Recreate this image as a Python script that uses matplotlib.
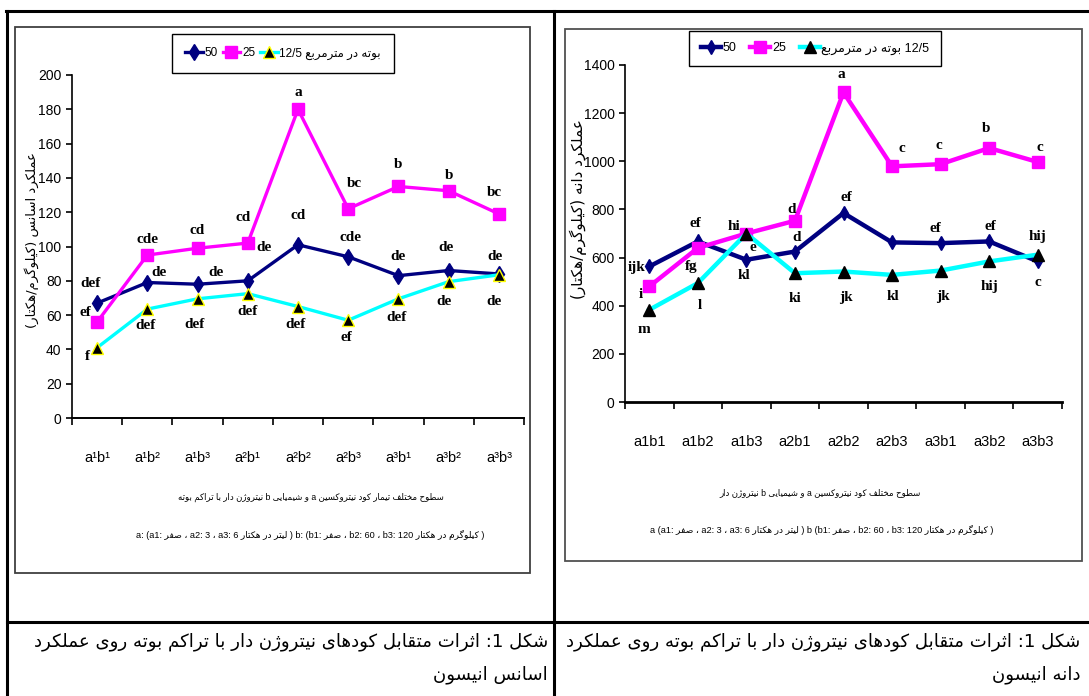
import numpy as np
import matplotlib
matplotlib.use('Agg')
import matplotlib.pyplot as plt
from matplotlib.patches import Rectangle

# ---- data ----
treatments = ['a1b1', 'a1b2', 'a1b3', 'a2b1', 'a2b2', 'a2b3', 'a3b1', 'a3b2', 'a3b3']
left_ticks = ['a¹b¹', 'a¹b²', 'a¹b³', 'a²b¹', 'a²b²', 'a²b³', 'a³b¹', 'a³b²', 'a³b³']
density_labels = ['50', '25', '12/5']

# essential oil yield (kg/ha)
oil_50 = [67, 79, 78, 80, 101, 94, 83, 86, 84]
oil_25 = [56, 95, 99, 102, 180, 122, 135, 132.5, 119]
oil_125 = [41, 63.5, 69.5, 72.5, 65, 57, 69.5, 79.5, 83.5]
oil_50_letters = ['def', 'de', 'de', 'de', 'cd', 'cde', 'de', 'de', 'de']
oil_25_letters = ['ef', 'cde', 'cd', 'cd', 'a', 'bc', 'b', 'b', 'bc']
oil_125_letters = ['f', 'def', 'def', 'def', 'def', 'ef', 'def', 'de', 'de']

# grain yield (kg/ha)
grain_50 = [563, 667, 591, 625, 785, 663, 660, 667, 584]
grain_25 = [480, 640, 700, 753, 1286, 979, 988, 1055, 997]
grain_125 = [383, 494, 700, 535, 542, 528, 546, 584, 612]
grain_50_letters = ['ijk', 'ef', 'kl', 'd', 'ef', '', 'ef', 'ef', 'hij']
grain_25_letters = ['i', 'fg', 'hi', 'd', 'a', 'c', 'c', 'b', 'c']
grain_125_letters = ['m', 'l', 'e', 'ki', 'jk', 'kl', 'jk', 'hij', 'c']

# label offsets in pixels (dx, dy up)
off_oil_50 = [(-7, 20), (12, 10), (18, 12), (16, 33), (0, 29), (2, 19), (0, 19), (-3, 23), (-4, 17)]
off_oil_25 = [(-12, 9), (0, 16), (0, 18), (-5, 26), (0, 17), (6, 25), (0, 22), (0, 15), (-4, 21)]
off_oil_125 = [(-10, -9), (-2, -16), (-3, -26), (0, -18), (-3, -18), (-2, -17), (-2, -19), (-5, -20), (-5, -27)]
off_grain_50 = [(-13, -1), (-2, 18), (-2, -16), (2, 14), (3, 16), (0, 0), (-5, 15), (1, 15), (0, 25)]
off_grain_25 = [(-9, -8), (-7, -19), (-12, 7), (-3, 11), (-2, 18), (10, 18), (-2, 19), (-3, 20), (2, 15)]
off_grain_125 = [(-5, -20), (2, -22), (6, -14), (0, -25), (2, -26), (1, -22), (2, -26), (0, -25), (0, -28)]

# ---- tiny persian shaper (matplotlib does no arabic shaping / bidi) ----
FOUR = {'ب': 0xFE8F, 'ت': 0xFE95, 'ث': 0xFE99, 'ج': 0xFE9D, 'ح': 0xFEA1, 'خ': 0xFEA5,
        'س': 0xFEB1, 'ش': 0xFEB5, 'ص': 0xFEB9, 'ض': 0xFEBD, 'ط': 0xFEC1, 'ظ': 0xFEC5,
        'ع': 0xFEC9, 'غ': 0xFECD, 'ف': 0xFED1, 'ق': 0xFED5, 'ل': 0xFEDD, 'م': 0xFEE1,
        'ن': 0xFEE5, 'ه': 0xFEE9, 'ک': 0xFB8E, 'گ': 0xFB92, 'ی': 0xFBFC, 'پ': 0xFB56,
        'چ': 0xFB7A}
TWO = {'ا': 0xFE8D, 'آ': 0xFE81, 'د': 0xFEA9, 'ذ': 0xFEAB, 'ر': 0xFEAD, 'ز': 0xFEAF,
       'ژ': 0xFB8A, 'و': 0xFEED}


def shape(s):
    out = []
    for i, ch in enumerate(s):
        if ch not in FOUR and ch not in TWO:
            out.append(ch)
            continue
        prev = s[i - 1] if i > 0 else ''
        nxt = s[i + 1] if i + 1 < len(s) else ''
        jp = prev in FOUR
        jn = ch in FOUR and (nxt in FOUR or nxt in TWO)
        if ch in FOUR:
            k = 3 if (jp and jn) else 1 if jp else 2 if jn else 0
            out.append(chr(FOUR[ch] + k))
        else:
            out.append(chr(TWO[ch] + (1 if jp else 0)))
    return ''.join(out)


def fa(s):
    return shape(s)[::-1].translate(str.maketrans('()', ')('))


W, H = 1089, 696
NAVY, PINK, CYAN = '#000080', '#FF00FF', '#00FFFF'
NARROW = ['Liberation Sans', 'DejaVu Sans']
SERIF = ['Liberation Serif', 'DejaVu Serif']


def box(x0, y0, x1, y1):
    return [x0 / W, 1 - y1 / H, (x1 - x0) / W, (y1 - y0) / H]


fig = plt.figure(figsize=(W / 100, H / 100), dpi=100)

# background axes in pixel coords for the table and free text
bg = fig.add_axes([0, 0, 1, 1])
bg.set_xlim(0, W)
bg.set_ylim(H, 0)
bg.axis('off')
bg.plot([6, W], [11, 11], color='black', lw=2.2)
bg.plot([7, 7], [11, H], color='black', lw=2.2)
bg.plot([554, 554], [11, H], color='black', lw=2.2)
bg.plot([7, W], [622, 622], color='black', lw=2.2)
bg.add_patch(Rectangle((15, 27), 515, 546, fill=False, ec='#404040', lw=1.3))
bg.add_patch(Rectangle((565, 29), 517, 532, fill=False, ec='#505050', lw=1.3))

x = np.arange(9) + 0.5


def setup(ax, ymax, ystep, ticks, lw_axis):
    ax.patch.set_alpha(0)
    ax.set_xlim(0, 9)
    ax.set_ylim(0, ymax)
    ax.set_xticks(range(10))
    ax.set_xticklabels([])
    ax.set_xticks(x, minor=True)
    ax.set_xticklabels(ticks, minor=True, family=NARROW, fontsize=10.5)
    ax.tick_params(axis='x', which='minor', length=0, pad=24)
    ax.tick_params(axis='x', which='major', length=5, width=1.2, direction='out')
    ax.set_yticks(np.arange(0, ymax + 1, ystep))
    ax.tick_params(axis='y', length=4, width=1.2, labelsize=10)
    for lab in ax.get_yticklabels():
        lab.set_family(NARROW)
    for s in ['top', 'right']:
        ax.spines[s].set_visible(False)
    ax.spines['left'].set_linewidth(1.2)
    ax.spines['bottom'].set_linewidth(lw_axis)


def letters(ax, vals, labs, offs):
    for xi, v, t, (dx, dy) in zip(x, vals, labs, offs):
        if t:
            ax.annotate(t, (xi, v), xytext=(dx, dy), textcoords='offset pixels',
                        ha='center', va='center', family=SERIF, fontweight='bold',
                        fontsize=11, annotation_clip=False)


# ---- left: essential oil ----
axL = fig.add_axes(box(72, 75, 524, 418))
setup(axL, 200, 20, left_ticks, 1.4)
l1, = axL.plot(x, oil_50, color=NAVY, lw=2.4, marker='d', ms=8, clip_on=False)
l2, = axL.plot(x, oil_25, color=PINK, lw=2.4, marker='s', ms=8, clip_on=False)
l3, = axL.plot(x, oil_125, color=CYAN, lw=2.4, marker='^', ms=8, mfc='black',
               mec='yellow', mew=1, clip_on=False)
letters(axL, oil_50, oil_50_letters, off_oil_50)
letters(axL, oil_25, oil_25_letters, off_oil_25)
letters(axL, oil_125, oil_125_letters, off_oil_125)
legL = fig.legend([l1, l2, l3], [density_labels[0], density_labels[1],
                  density_labels[2] + ' ' + fa('بوته در مترمربع')],
                  loc='center', bbox_to_anchor=(283 / W, 1 - 53.5 / H), ncol=3,
                  fancybox=False, edgecolor='black', framealpha=1, handlelength=1.5,
                  handletextpad=0.15, columnspacing=0.4, borderpad=1.1,
                  prop={'family': NARROW, 'size': 8.5})
legL.get_frame().set_linewidth(1.0)

bg.text(32, 240, fa('عملکرد اسانس (کیلوگرم/هکتار)'), rotation=90, ha='center',
        va='center', fontsize=9.5, family='DejaVu Sans')
bg.text(311, 497, fa('نیتروژن دار با تراکم بوته') + ' b ' + fa('و شیمیایی') + ' a '
        + fa('سطوح مختلف تیمار کود نیتروکسین'), ha='center', va='center',
        fontsize=6.2, family=NARROW)
bg.text(310, 535, 'a: (a1: ' + fa('صفر') + ' ، a2: 3 ، a3: 6 ' + fa('لیتر در هکتار')
        + ' ) b: (b1: ' + fa('صفر') + ' ، b2: 60 ، b3: 120 ' + fa('کیلوگرم در هکتار')
        + ' )', ha='center', va='center', fontsize=6.6, family=NARROW)

# ---- right: grain yield ----
axR = fig.add_axes(box(625, 65, 1062, 402))
setup(axR, 1400, 200, treatments, 2.0)
r1, = axR.plot(x, grain_50, color=NAVY, lw=3.2, marker='d', ms=7, clip_on=False)
r2, = axR.plot(x, grain_25, color=PINK, lw=3.2, marker='s', ms=9, clip_on=False)
r3, = axR.plot(x, grain_125, color=CYAN, lw=3.2, marker='^', ms=9, mfc='black',
               mec='black', clip_on=False)
letters(axR, grain_50, grain_50_letters, off_grain_50)
letters(axR, grain_25, grain_25_letters, off_grain_25)
letters(axR, grain_125, grain_125_letters, off_grain_125)
legR = fig.legend([r1, r2, r3], [density_labels[0], density_labels[1],
                  fa('بوته در مترمربع') + ' ' + density_labels[2]],
                  loc='center', bbox_to_anchor=(815 / W, 1 - 48.5 / H), ncol=3,
                  fancybox=False, edgecolor='black', framealpha=1, handlelength=1.6,
                  handletextpad=0.15, columnspacing=1.1, borderpad=0.9,
                  prop={'family': NARROW, 'size': 9})
legR.get_frame().set_linewidth(1.0)

bg.text(578, 209, fa('عملکرد دانه (کیلوگرم/هکتار)'), rotation=90, ha='center',
        va='center', fontsize=11, family='DejaVu Sans')
bg.text(820, 493, fa('نیتروژن دار') + ' b ' + fa('و شیمیایی') + ' a '
        + fa('سطوح مختلف کود نیتروکسین'), ha='center', va='center',
        fontsize=6.2, family=NARROW)
bg.text(822, 530, 'a (a1: ' + fa('صفر') + ' ، a2: 3 ، a3: 6 ' + fa('لیتر در هکتار')
        + ' ) b (b1: ' + fa('صفر') + ' ، b2: 60 ، b3: 120 ' + fa('کیلوگرم در هکتار')
        + ' )', ha='center', va='center', fontsize=6.6, family=NARROW)

# ---- captions ----
cap = fa('اثرات متقابل کودهای نیتروژن دار با تراکم بوته روی عملکرد') + ' :1 ' + fa('شکل')
bg.text(548, 642, cap, ha='right', va='center', fontsize=13.1, family='DejaVu Sans')
bg.text(548, 675, fa('اسانس انیسون'), ha='right', va='center', fontsize=13.1,
        family='DejaVu Sans')
bg.text(1080, 642, cap, ha='right', va='center', fontsize=13.1, family='DejaVu Sans')
bg.text(1080, 675, fa('دانه انیسون'), ha='right', va='center', fontsize=13.1,
        family='DejaVu Sans')

fig.savefig('out.png', dpi=100)
